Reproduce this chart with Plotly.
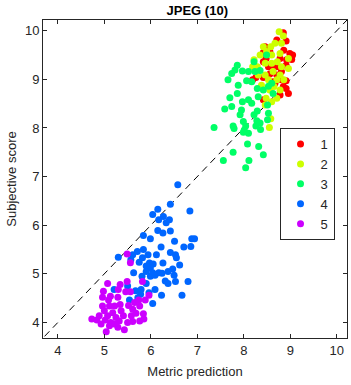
import plotly.graph_objects as go

# ---- data (metric prediction, subjective score) per class ----
g1_x = [8.85, 8.91, 8.71, 8.46, 8.42, 8.56, 8.86, 8.99, 9.05, 9.03, 8.92, 8.78, 8.91, 8.71, 8.60, 8.48,
        8.42, 8.26, 8.19, 8.42, 8.56, 8.81, 8.91, 8.71, 8.85, 8.91, 8.96, 8.63, 8.78, 8.42, 8.67, 8.53, 8.81]
g1_y = [9.96, 9.79, 9.81, 9.67, 9.55, 9.57, 9.60, 9.53, 9.50, 9.41, 9.40, 9.43, 9.29, 9.26, 9.29, 9.43,
        9.36, 9.04, 8.99, 9.04, 9.11, 8.99, 8.97, 9.09, 8.85, 8.81, 8.71, 8.95, 8.68, 8.58, 8.92, 9.26, 9.16]

g2_x = [8.55, 8.58, 8.46, 8.60, 8.76, 8.67, 8.81, 8.58, 8.49, 8.60, 8.78, 8.96, 8.35, 8.22, 8.29, 8.46,
        8.60, 8.72, 8.81, 8.96, 8.31, 8.46, 8.63, 8.53, 8.71, 8.78, 8.86, 8.38, 8.56, 8.78, 8.71, 8.48,
        8.65, 8.19, 8.85, 8.42]
g2_y = [8.01, 8.19, 8.47, 8.54, 9.98, 9.74, 9.74, 9.67, 9.57, 9.50, 9.53, 9.43, 9.50, 9.40, 9.26, 9.33,
        9.33, 9.36, 9.26, 9.22, 9.09, 9.09, 9.16, 8.99, 8.99, 9.09, 8.99, 8.88, 8.78, 8.78, 8.61, 8.61,
        8.85, 9.26, 9.89, 9.67]

g3_x = [7.36, 7.56, 7.77, 8.04, 8.11, 8.08, 8.32, 8.42, 7.59, 7.74, 7.70, 7.77, 7.79, 7.95, 7.92, 7.99,
        8.01, 8.10, 7.99, 8.04, 8.22, 8.28, 8.26, 8.36, 8.35, 8.29, 8.51, 8.53, 8.51, 8.17, 8.10, 7.97,
        7.86, 7.88, 8.06, 8.17, 7.97, 7.81, 7.74, 7.86, 8.10, 8.24, 8.35, 8.29, 8.42, 8.53, 8.60, 8.31,
        8.49, 8.22, 8.63, 7.66]
g3_y = [8.01, 7.33, 7.50, 7.18, 7.33, 7.67, 7.62, 7.45, 8.39, 8.44, 8.62, 8.04, 7.99, 8.37, 8.27, 8.13,
        7.96, 7.89, 7.91, 8.04, 8.27, 8.15, 8.04, 7.97, 8.10, 8.35, 8.17, 8.30, 8.47, 8.51, 8.58, 8.54,
        8.71, 8.88, 8.97, 8.95, 9.17, 9.19, 9.12, 9.29, 9.16, 9.16, 9.18, 8.81, 8.78, 8.86, 8.92, 8.64,
        9.50, 9.36, 8.71, 8.99]

g4_x = [6.58, 6.42, 6.15, 6.04, 6.84, 6.27, 6.17, 6.40, 6.33, 5.84, 6.15, 6.26, 6.42, 5.99, 6.51, 6.88,
        6.94, 6.86, 6.71, 6.22, 5.84, 5.71, 5.61, 5.30, 5.57, 5.82, 5.94, 6.12, 6.42, 6.53, 6.55, 5.75,
        5.97, 6.05, 5.90, 5.99, 6.26, 6.62, 6.47, 6.37, 5.90, 6.04, 6.17, 5.63, 5.81, 5.99, 6.09, 6.24,
        6.50, 6.31, 6.37, 6.53, 6.80, 5.21, 5.50, 5.90, 5.67, 5.79, 6.09, 5.96, 5.78, 6.23, 6.67, 6.04,
        5.54, 5.72]
g4_y = [6.83, 6.43, 6.33, 6.22, 6.29, 6.18, 6.11, 6.11, 6.05, 5.79, 5.89, 5.84, 5.88, 5.72, 5.67, 5.72,
        5.72, 5.56, 5.55, 5.55, 5.50, 5.46, 5.39, 5.34, 5.29, 5.33, 5.39, 5.39, 5.44, 5.39, 5.33, 5.24,
        5.22, 5.20, 5.16, 5.12, 5.22, 5.18, 5.10, 5.05, 5.05, 5.02, 5.02, 5.02, 4.95, 4.95, 4.97, 5.01,
        4.97, 4.85, 4.80, 4.84, 4.84, 4.68, 4.75, 4.80, 4.65, 4.68, 4.68, 4.61, 4.58, 4.56, 4.56, 4.39,
        4.46, 4.51]

g5_x = [5.49, 5.56, 5.07, 5.49, 5.82, 5.34, 5.30, 5.46, 5.56, 4.98, 5.13, 4.96, 5.29, 5.09, 5.96, 5.88,
        5.74, 5.65, 5.52, 5.34, 5.22, 5.11, 5.00, 5.18, 5.36, 5.61, 5.76, 5.84, 5.68, 5.58, 5.41, 5.25,
        5.07, 4.89, 4.84, 4.73, 5.02, 5.14, 5.32, 5.61, 5.76, 5.85, 4.93, 5.11, 5.29, 5.04, 5.43, 5.21,
        5.50, 4.96]
g5_y = [5.41, 5.23, 4.80, 4.84, 4.84, 4.78, 4.68, 4.63, 4.63, 4.64, 4.54, 4.52, 4.52, 4.46, 4.56, 4.46,
        4.46, 4.41, 4.35, 4.37, 4.34, 4.34, 4.24, 4.20, 4.24, 4.27, 4.34, 4.18, 4.19, 4.14, 4.14, 4.10,
        4.14, 4.14, 4.05, 4.07, 4.05, 4.00, 4.03, 4.02, 4.03, 4.07, 3.97, 3.93, 3.90, 3.81, 3.85, 3.97,
        4.00, 4.34]

names = ["1", "2", "3", "4", "5"]
colors = ["#ff0000", "#ccff00", "#00ff66", "#0066ff", "#cc00ff"]
axis_range = [3.68, 10.22]
diag = [3.0, 11.0]
ticks = [4, 5, 6, 7, 8, 9, 10]

fig = go.Figure()
fig.add_trace(go.Scatter(x=diag, y=diag, mode="lines", showlegend=False,
                         line=dict(color="black", width=1, dash="7px,5px"), hoverinfo="skip"))
for gx, gy, n, c in zip([g1_x, g2_x, g3_x, g4_x, g5_x], [g1_y, g2_y, g3_y, g4_y, g5_y], names, colors):
    fig.add_trace(go.Scatter(x=gx, y=gy, mode="markers", name=n,
                             marker=dict(color=c, size=7, line=dict(width=0))))

axis_common = dict(range=axis_range, tickvals=ticks, ticks="inside", ticklen=4, tickcolor="#262626",
                   showline=True, linecolor="#262626", linewidth=1, mirror="ticks",
                   showgrid=False, zeroline=False,
                   tickfont=dict(family="Liberation Sans, Arial", size=13, color="#262626"))
fig.update_xaxes(**axis_common, title=dict(text="Metric prediction", standoff=10,
                 font=dict(family="Liberation Sans, Arial", size=13, color="#262626")))
fig.update_yaxes(**axis_common, title=dict(text="Subjective score", standoff=5,
                 font=dict(family="Liberation Sans, Arial", size=13, color="#262626")))

fig.update_layout(
    width=351, height=385,
    margin=dict(l=43, r=4, t=20, b=47),
    plot_bgcolor="white", paper_bgcolor="white",
    title=dict(text="<b>JPEG (10)</b>", x=0.562, xanchor="center", y=0.985, yanchor="top",
               font=dict(family="Liberation Sans, Arial", size=13, color="black")),
    legend=dict(x=0.778, xanchor="left", y=0.66, yanchor="top",
                bordercolor="#262626", borderwidth=1, bgcolor="white",
                font=dict(family="Liberation Sans, Arial", size=13, color="#262626"),
                tracegroupgap=0, itemwidth=30),
    showlegend=True,
)

fig.write_html("out.html")
